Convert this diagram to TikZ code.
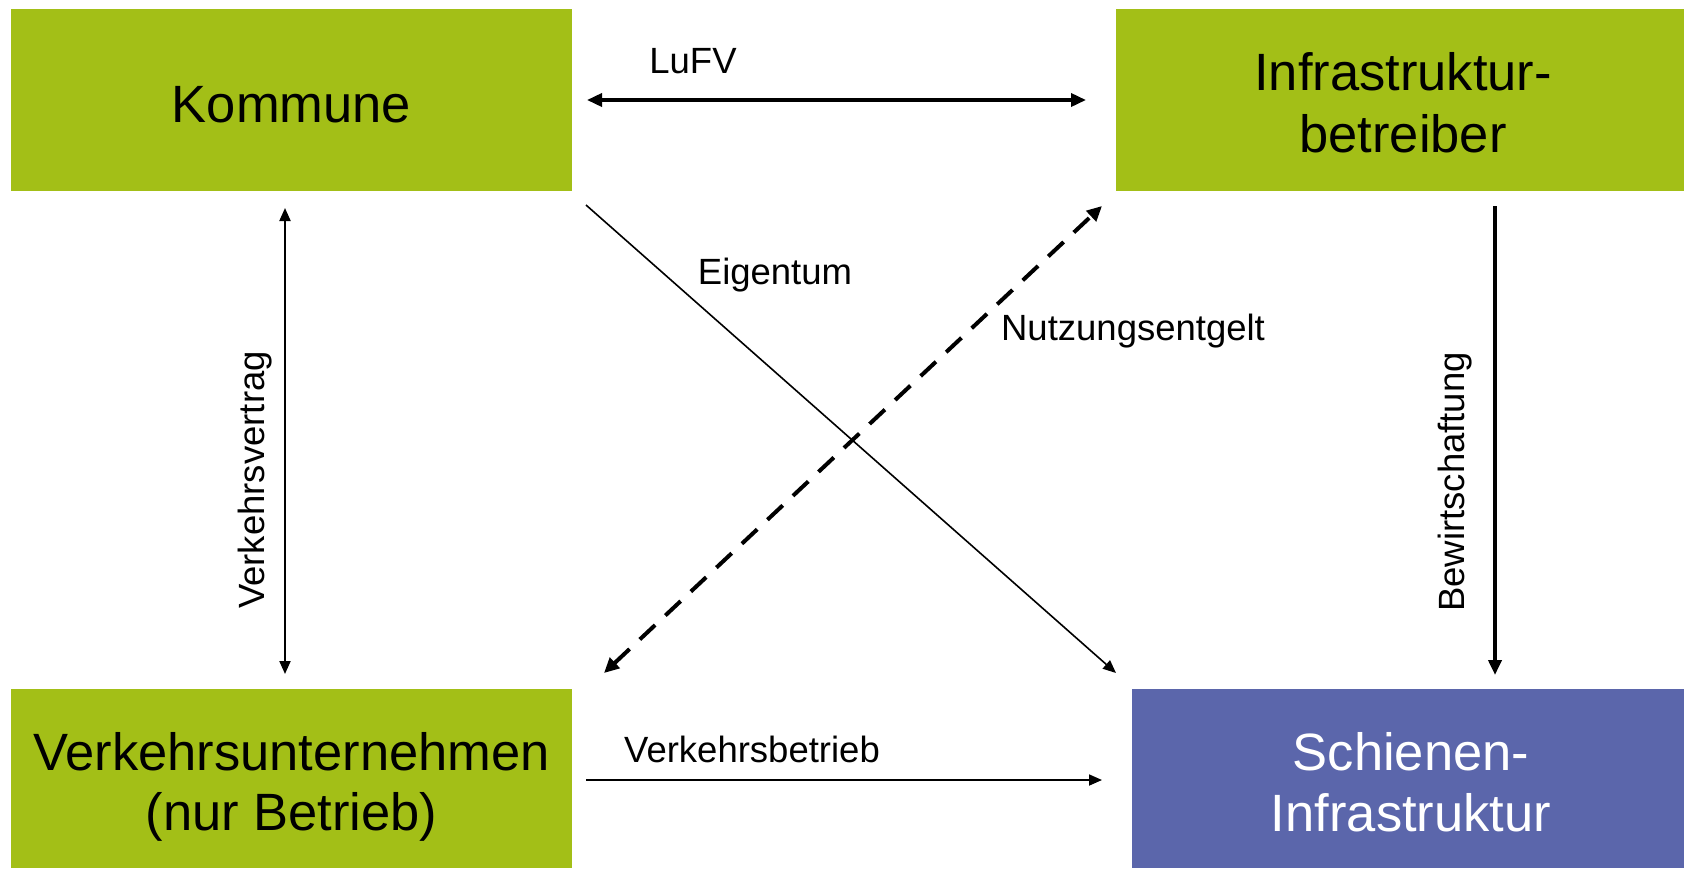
\documentclass[tikz,border=0pt]{standalone}
\usepackage{fontspec}
\setmainfont{Liberation Sans}
\usetikzlibrary{arrows.meta}
\definecolor{boxgreen}{RGB}{163,191,23}
\definecolor{boxblue}{RGB}{91,102,171}
\begin{document}
\begin{tikzpicture}[x=1pt,y=-1pt,
  box/.style={rectangle, anchor=north west, inner sep=0pt, draw=none},
  boxtxt/.style={inner sep=0pt, anchor=base, font=\fontsize{52.5}{60}\selectfont},
  lbl/.style={inner sep=0pt, anchor=base, font=\fontsize{36.5}{44}\selectfont},
  tipbig/.style={-{Triangle[length=15pt,width=13pt]}},
  tipsmall/.style={-{Triangle[length=13pt,width=11pt]}},
]
\path[use as bounding box, fill=white] (0,0) rectangle (1684,868);

% boxes
\node[box, fill=boxgreen, minimum width=561pt, minimum height=182pt] (kom) at (11,9) {};
\node[box, fill=boxgreen, minimum width=568pt, minimum height=182pt] (ib) at (1116,9) {};
\node[box, fill=boxgreen, minimum width=561pt, minimum height=179pt] (vu) at (11,689) {};
\node[box, fill=boxblue, minimum width=552pt, minimum height=179pt] (si) at (1132,689) {};

% box texts
\node[boxtxt] (komT) at (291.5,122) {Kommune};
\node[boxtxt] (ibT1) at (1403,90) {Infrastruktur-};
\node[boxtxt] (ibT2) at (1403,152) {betreiber};
\node[boxtxt] (vuT1) at (291.5,770) {Verkehrsunternehmen};
\node[boxtxt] (vuT2) at (291.5,830) {(nur Betrieb)};
\node[boxtxt, text=white] (siT1) at (1411,770) {Schienen-};
\node[boxtxt, text=white] (siT2) at (1411,831) {Infrastruktur};

% connector end points
\coordinate (lufvA) at (587,100);
\coordinate (lufvB) at (1086,100);
\coordinate (vvA) at (285,208);
\coordinate (vvB) at (285,674);
\coordinate (bwA) at (1495,206);
\coordinate (bwB) at (1495,675);
\coordinate (eiA) at (586,205);
\coordinate (eiB) at (1116,673);
\coordinate (nuA) at (604,673);
\coordinate (nuB) at (1102,206);
\coordinate (vbA) at (586,780);
\coordinate (vbB) at (1102,780);

% connectors
\draw[line width=3.5pt, {Triangle[length=15pt,width=13pt]}-{Triangle[length=15pt,width=13pt]}] (lufvA) -- (lufvB);
\draw[line width=2pt, {Triangle[length=13pt,width=11pt]}-{Triangle[length=13pt,width=11pt]}] (vvA) -- (vvB);
\draw[line width=4pt, tipbig] (bwA) -- (bwB);
\draw[line width=1.6pt, tipsmall] (eiA) -- (eiB);
\draw[line width=4pt, dash pattern=on 21pt off 14pt, {Triangle[length=15pt,width=14pt]}-{Triangle[length=15pt,width=14pt]}] (nuA) -- (nuB);
\draw[line width=1.8pt, tipsmall] (vbA) -- (vbB);

% labels
\node[lbl] (lLuFV) at (693,73) {LuFV};
\node[lbl] (lEig) at (775,284) {Eigentum};
\node[lbl] (lNutz) at (1133,340) {Nutzungsentgelt};
\node[lbl] (lVb) at (752,762) {Verkehrsbetrieb};
\node[lbl, rotate=90] (lVv) at (264,480) {Verkehrsvertrag};
\node[lbl, rotate=90] (lBw) at (1464,482) {Bewirtschaftung};
\end{tikzpicture}
\end{document}
